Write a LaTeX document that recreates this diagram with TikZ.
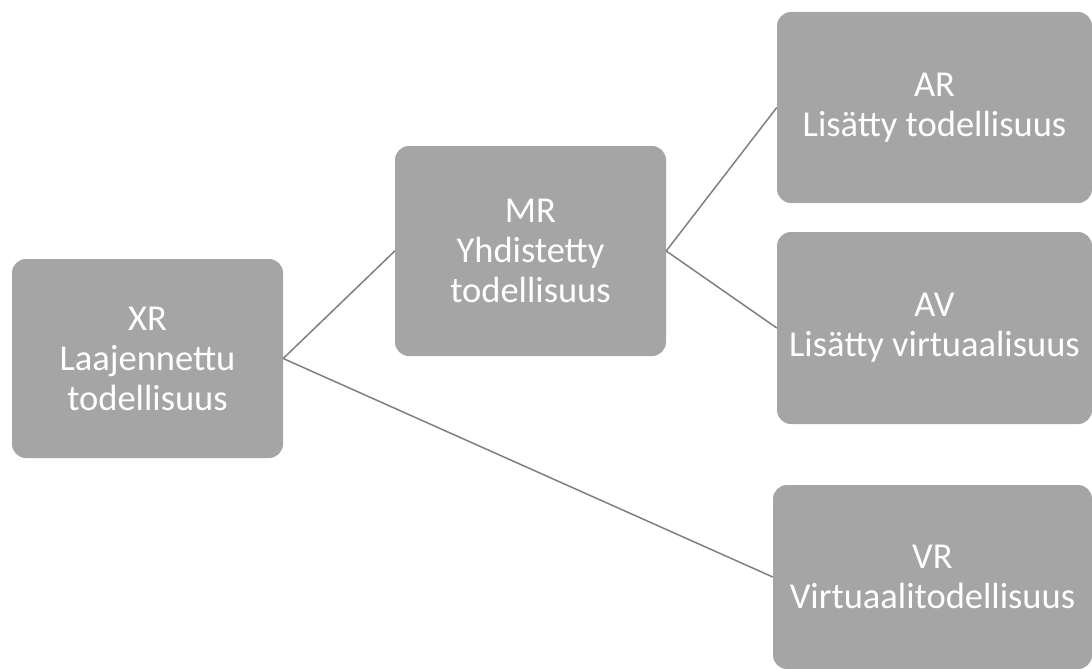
\documentclass[tikz,border=0pt]{standalone}
\usepackage{fontspec}
\setmainfont{Carlito}
\definecolor{boxgray}{HTML}{A5A5A5}
\definecolor{linegray}{HTML}{7F7F7F}
\begin{document}
\begin{tikzpicture}[x=1pt,y=-1pt]
\useasboundingbox (0,0) rectangle (1092,669);
	\begin{scope}[every node/.style={rectangle,rounded corners=14pt,fill=boxgray,text=white,align=center,inner sep=0pt,font=\fontsize{36.5}{40}\selectfont}]
		\node[minimum width=271pt,minimum height=199pt] (XR) at (147.5,358.5) {XR\\Laajennettu\\todellisuus};
		\node[minimum width=271pt,minimum height=210pt] (MR) at (530.5,251) {MR\\Yhdistetty\\todellisuus};
		\node[minimum width=315pt,minimum height=191pt] (AR) at (934.5,107.5) {AR\\Lisätty todellisuus};
		\node[minimum width=315pt,minimum height=192pt] (AV) at (934.5,328) {AV\\Lisätty virtuaalisuus};
		\node[minimum width=319pt,minimum height=184pt] (VR) at (932.5,577) {VR\\Virtuaalitodellisuus};
	\end{scope}
	
	\begin{scope}[every path/.style={draw=linegray,line width=1.5pt}]
		\path (XR.east) -- (MR.west);
		\path (XR.east) -- (VR.west);
		\path (MR.east) -- (AR.west);
		\path (MR.east) -- (AV.west);
	\end{scope}
\end{tikzpicture}
\end{document}
